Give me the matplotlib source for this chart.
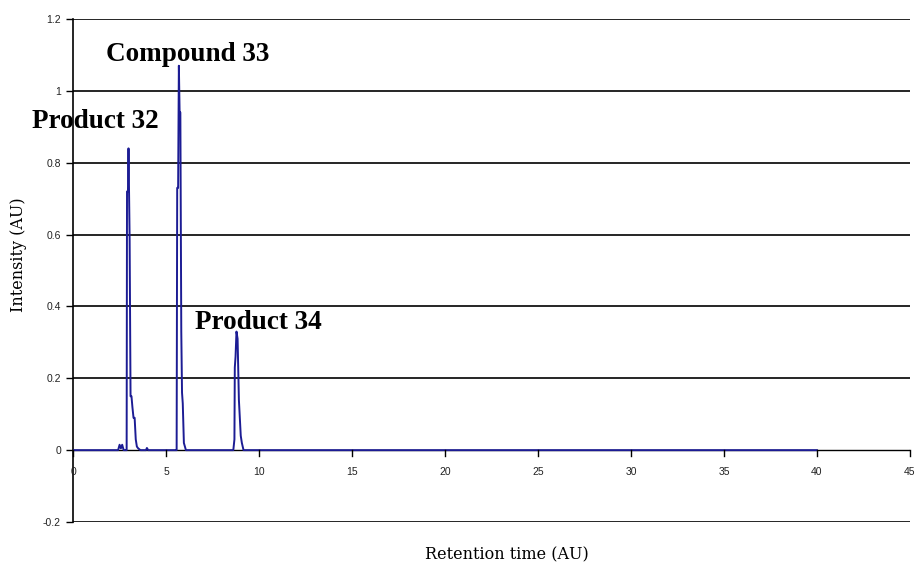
import matplotlib.pyplot as plt
import numpy as np

# --- Data ---
retention_time = [0.0, 2.40, 2.48, 2.55, 2.62, 2.70, 2.80, 2.86, 2.88, 2.93, 2.96, 3.02, 3.07, 3.12,
                  3.17, 3.23, 3.29, 3.35, 3.41, 3.48, 3.60, 3.90, 3.95, 4.02,
                  5.50, 5.55, 5.58, 5.63, 5.67, 5.71, 5.75, 5.80, 5.84, 5.88, 5.94, 6.05,
                  8.60, 8.66, 8.68, 8.72, 8.77, 8.83, 8.90, 9.00, 9.06, 9.15, 40.0]
intensity = [0.0, 0.0, 0.015, 0.005, 0.015, 0.0, 0.0, 0.0, 0.72, 0.72, 0.84, 0.59, 0.15, 0.15,
             0.12, 0.09, 0.09, 0.03, 0.01, 0.005, 0.0, 0.0, 0.006, 0.0,
             0.0, 0.0, 0.73, 0.73, 1.07, 0.94, 0.94, 0.33, 0.16, 0.13, 0.02, 0.0,
             0.0, 0.03, 0.23, 0.26, 0.33, 0.31, 0.14, 0.04, 0.02, 0.0, 0.0]

peak_labels = ['Product 32', 'Compound 33', 'Product 34']
label_x = [1.18, 6.13, 9.97]
label_y = [0.897, 1.083, 0.336]

x_ticks = [0, 5, 10, 15, 20, 25, 30, 35, 40, 45]
y_ticks = [-0.2, 0, 0.2, 0.4, 0.6, 0.8, 1.0, 1.2]
y_tick_labels = ['-0.2', '0', '0.2', '0.4', '0.6', '0.8', '1', '1.2']

serif = ['Liberation Serif', 'DejaVu Serif']
tick_font = ['Liberation Sans', 'DejaVu Sans']

fig = plt.figure(figsize=(9.21, 5.68), dpi=100)
ax = fig.add_axes([0.0798, 0.081, 0.908, 0.8855])

# horizontal gridlines (Excel style, black)
for yv in y_ticks:
    if yv != 0:
        ax.axhline(yv, color='black', lw=1.2, zorder=1)

# category axis crossing at zero
ax.axhline(0, color='black', lw=1.0, zorder=2)
ax.plot(retention_time, intensity, color='#1c1c94', lw=1.4, zorder=3)

ax.set_xlim(0, 45)
ax.set_ylim(-0.2, 1.2)

for s in ['top', 'right', 'bottom']:
    ax.spines[s].set_visible(False)
ax.spines['left'].set_linewidth(1.2)

ax.set_yticks(y_ticks)
ax.set_yticklabels(y_tick_labels, family=tick_font, fontsize=7.5, color='#222222')
ax.tick_params(axis='y', length=5, width=1, direction='out', pad=4)

# x ticks sit on the zero line
ax.set_xticks([])
for xv in x_ticks:
    ax.plot([xv, xv], [0, -0.016], color='black', lw=1, clip_on=False, zorder=4)
    ax.text(xv, -0.048, str(xv), ha='center', va='top', fontsize=7.5,
            family=tick_font, color='#222222')

for lab, lx, ly in zip(peak_labels, label_x, label_y):
    ax.text(lx, ly, lab, ha='center', va='baseline', fontsize=19.5,
            fontweight='bold', family=serif)

ax.set_ylabel('Intensity (AU)', family=['DejaVu Serif'], fontsize=11.5)
ax.yaxis.set_label_coords(-0.066, 0.531)
ax.yaxis.label.set_va('center')
ax.set_xlabel('Retention time (AU)', family=['DejaVu Serif'], fontsize=11.5)
ax.xaxis.set_label_coords(0.518, -0.066)
ax.xaxis.label.set_va('center')

plt.savefig('out.png', dpi=100)
